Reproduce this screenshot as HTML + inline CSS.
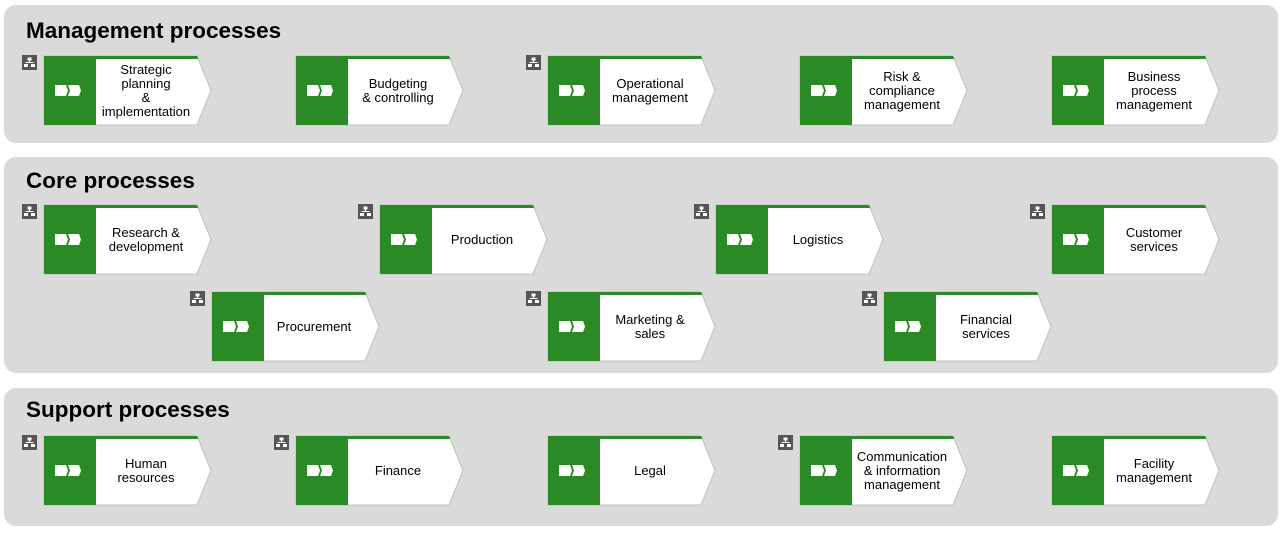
<!DOCTYPE html>
<html><head><meta charset="utf-8"><style>
html,body{margin:0;padding:0;background:#fff;width:1283px;height:535px;overflow:hidden}
svg text{font-family:"Liberation Sans",Arial,sans-serif}
</style></head><body>
<svg width="1283" height="535" viewBox="0 0 1283 535" xmlns="http://www.w3.org/2000/svg">
<defs>
<g id="proc">
<polygon points="0,0 153,0 167,34.5 153,69 0,69" fill="#fff" stroke="#b8c4b8" stroke-width="1"/>
<polygon points="0,0 153,0 154.3,3 0,3" fill="#2a8a26"/>
<rect x="0" y="0" width="52" height="69" fill="#2a8a26"/>
<polygon points="11,29 22,29 24,34.5 22,40 11,40" fill="#fff"/>
<polygon points="24,29 35,29 37,34.5 35,40 24,40 26,34.5" fill="#fff"/>
</g>
<g id="ico">
<rect x="0" y="0" width="15" height="15" fill="#555"/>
<rect x="5.5" y="2.5" width="4" height="3" fill="#fff"/>
<rect x="7" y="5.5" width="1" height="2" fill="#fff"/>
<rect x="3.5" y="7" width="8" height="1" fill="#fff"/>
<rect x="2" y="9" width="4" height="3" fill="#fff"/>
<rect x="9" y="9" width="4" height="3" fill="#fff"/>
</g>
</defs>
<rect x="4" y="5" width="1274" height="138" rx="12" fill="#dadada"/>
<rect x="4" y="157" width="1274" height="216" rx="12" fill="#dadada"/>
<rect x="4" y="388" width="1274" height="138" rx="12" fill="#dadada"/>
<g font-weight="bold" font-size="22.5" fill="#000">
<text x="26" y="38">Management processes</text>
<text x="26" y="188">Core processes</text>
<text x="26" y="417">Support processes</text>
</g>
<g font-size="13" fill="#000" text-anchor="middle">
<use href="#ico" x="22" y="55"/><use href="#proc" x="44" y="56"/>
<text x="146" y="74">Strategic</text><text x="146" y="88">planning</text><text x="146" y="102">&amp;</text><text x="146" y="116">implementation</text>
<use href="#proc" x="296" y="56"/>
<text x="398" y="88">Budgeting</text><text x="398" y="102">&amp; controlling</text>
<use href="#ico" x="526" y="55"/><use href="#proc" x="548" y="56"/>
<text x="650" y="88">Operational</text><text x="650" y="102">management</text>
<use href="#proc" x="800" y="56"/>
<text x="902" y="81">Risk &amp;</text><text x="902" y="95">compliance</text><text x="902" y="109">management</text>
<use href="#proc" x="1052" y="56"/>
<text x="1154" y="81">Business</text><text x="1154" y="95">process</text><text x="1154" y="109">management</text>
<use href="#ico" x="22" y="204"/><use href="#proc" x="44" y="205"/>
<text x="146" y="237">Research &amp;</text><text x="146" y="251">development</text>
<use href="#ico" x="358" y="204"/><use href="#proc" x="380" y="205"/>
<text x="482" y="244">Production</text>
<use href="#ico" x="694" y="204"/><use href="#proc" x="716" y="205"/>
<text x="818" y="244">Logistics</text>
<use href="#ico" x="1030" y="204"/><use href="#proc" x="1052" y="205"/>
<text x="1154" y="237">Customer</text><text x="1154" y="251">services</text>
<use href="#ico" x="190" y="291"/><use href="#proc" x="212" y="292"/>
<text x="314" y="331">Procurement</text>
<use href="#ico" x="526" y="291"/><use href="#proc" x="548" y="292"/>
<text x="650" y="324">Marketing &amp;</text><text x="650" y="338">sales</text>
<use href="#ico" x="862" y="291"/><use href="#proc" x="884" y="292"/>
<text x="986" y="324">Financial</text><text x="986" y="338">services</text>
<use href="#ico" x="22" y="435"/><use href="#proc" x="44" y="436"/>
<text x="146" y="468">Human</text><text x="146" y="482">resources</text>
<use href="#ico" x="274" y="435"/><use href="#proc" x="296" y="436"/>
<text x="398" y="475">Finance</text>
<use href="#proc" x="548" y="436"/>
<text x="650" y="475">Legal</text>
<use href="#ico" x="778" y="435"/><use href="#proc" x="800" y="436"/>
<text x="902" y="461">Communication</text><text x="902" y="475">&amp; information</text><text x="902" y="489">management</text>
<use href="#proc" x="1052" y="436"/>
<text x="1154" y="468">Facility</text><text x="1154" y="482">management</text>
</g>
</svg>
</body></html>
